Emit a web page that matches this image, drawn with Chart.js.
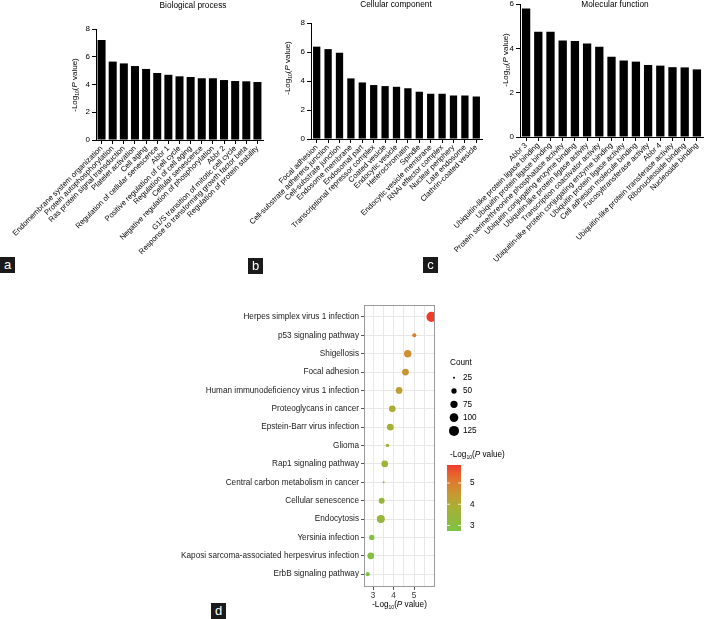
<!DOCTYPE html>
<html>
<head>
<meta charset="utf-8">
<script src="https://cdn.jsdelivr.net/npm/chart.js@4.4.1/dist/chart.umd.min.js"></script>
<style>
  body { margin:0; width:708px; height:619px; position:relative; background:#fff; overflow:hidden;
         font-family:"Liberation Sans", Arial, sans-serif; }
  .pane { position:absolute; }
  .tag { position:absolute; width:15px; height:16px; background:#1a1a1a; color:#fff;
         font-size:13px; line-height:16px; text-align:center; }
</style>
</head>
<body>
<div class="pane" style="left:0;top:0;width:270px;height:265px"><canvas id="bpChart"></canvas></div>
<div class="pane" style="left:235px;top:0;width:250px;height:265px"><canvas id="ccChart"></canvas></div>
<div class="pane" style="left:420px;top:0;width:288px;height:265px"><canvas id="mfChart"></canvas></div>
<div class="pane" style="left:0;top:295px;width:708px;height:324px"><canvas id="keggChart"></canvas></div>
<div class="tag" style="left:0;top:257px">a</div>
<div class="tag" style="left:248px;top:258px">b</div>
<div class="tag" style="left:423px;top:257px">c</div>
<div class="tag" style="left:211px;top:603px">d</div>
<script>
// ---- data ----
var bpLabels = ["Endomembrane system organization","Protein autophosphorylation","Ras protein signal transduction",
  "Platelet activation","Cell aging","Regulation of cellular senescence","Abbr 1","Positive regulation of cell cycle",
  "Regulation of cell aging","Cellular senescence","Negative regulation of phosphorylation","Abbr 2",
  "G1/S transition of mitotic cell cycle","Response to transforming growth factor beta","Regulation of protein stability"];
var bpValues = [7.2, 5.65, 5.52, 5.33, 5.12, 4.83, 4.7, 4.59, 4.54, 4.45, 4.45, 4.32, 4.25, 4.23, 4.18];

var ccLabels = ["Focal adhesion","Cell-substrate adherens junction","Cell-substrate junction","Endosome membrane",
  "Endosomal part","Transcriptional repressor complex","Coated vesicle","Endocytic vesicle","Heterochromatin","Spindle",
  "Endocytic vesicle membrane","RNAi effector complex","Nuclear periphery","Late endosome","Clathrin-coated vesicle"];
var ccValues = [6.37, 6.2, 5.95, 4.18, 3.9, 3.72, 3.65, 3.6, 3.5, 3.26, 3.12, 3.12, 3.0, 3.0, 2.93];

var mfLabels = ["Abbr 3","Ubiquitin-like protein ligase binding","Ubiquitin protein ligase binding",
  "Protein serine/threonine phosphatase activity","Ubiquitin conjugating enzyme binding",
  "Ubiquitin-like protein ligase activity","Transcription coactivator activity",
  "Ubiquitin-like protein conjugating enzyme binding","Ubiquitin protein ligase activity",
  "Cell adhesion molecule binding","Fucosyltransferase activity","Abbr 4",
  "Ubiquitin-like protein transferase activity","Ribonucleoside binding","Nucleoside binding"];
var mfValues = [5.8, 4.75, 4.75, 4.35, 4.33, 4.22, 4.07, 3.62, 3.45, 3.4, 3.25, 3.22, 3.15, 3.14, 3.05];

var pathways = ["Herpes simplex virus 1 infection","p53 signaling pathway","Shigellosis","Focal adhesion",
  "Human immunodeficiency virus 1 infection","Proteoglycans in cancer","Epstein-Barr virus infection","Glioma",
  "Rap1 signaling pathway","Central carbon metabolism in cancer","Cellular senescence","Endocytosis",
  "Yersinia infection","Kaposi sarcoma-associated herpesvirus infection","ErbB signaling pathway"];
var pathwayLogP = [5.85, 5.01, 4.69, 4.58, 4.27, 3.94, 3.84, 3.70, 3.57, 3.52, 3.42, 3.38, 2.94, 2.89, 2.74];
var pathwayCount = [128, 38, 78, 68, 68, 67, 67, 34, 66, 25, 58, 88, 50, 68, 38];

var countBreaks = [25, 50, 75, 100, 125];
var logPBreaks = [3, 4, 5];
var xGrid = [3, 3.5, 4, 4.5, 5, 5.5];

// ---- helpers ----
Chart.defaults.font.family = '"Liberation Sans", Arial, sans-serif';
Chart.defaults.color = '#000';
var FONT = '"Liberation Sans", Arial, sans-serif';

var vMin = Math.min.apply(null, pathwayLogP), vMax = Math.max.apply(null, pathwayLogP);
var colorStops = [[0,[125,194,67]],[0.35,[166,176,54]],[0.55,[198,154,48]],[0.78,[226,117,45]],[1,[240,59,43]]];

function valueColor(v){
  var t = Math.max(0, Math.min(1, (v - vMin) / (vMax - vMin)));
  for (var i = 1; i < colorStops.length; i++){
    if (t <= colorStops[i][0]){
      var a = colorStops[i-1], b = colorStops[i];
      var f = (t - a[0]) / (b[0] - a[0]);
      var c = a[1].map(function(x, k){ return Math.round(x + (b[1][k] - x) * f); });
      return 'rgb(' + c.join(',') + ')';
    }
  }
  return 'rgb(240,59,43)';
}
function countRadius(n){ return Math.sqrt(Math.max(0.5, 0.24 * n - 5)); }

// "-Log10(P value)" with subscript and italic P
function drawLogLabel(ctx, x, y, size, angle, align){
  var parts = [
    {t:'-Log', f:size + 'px ' + FONT, dy:0},
    {t:'10', f:(size*0.62) + 'px ' + FONT, dy:size*0.3},
    {t:'(', f:size + 'px ' + FONT, dy:0},
    {t:'P', f:'italic ' + size + 'px ' + FONT, dy:0},
    {t:' value)', f:size + 'px ' + FONT, dy:0}
  ];
  ctx.save();
  ctx.translate(x, y);
  ctx.rotate(angle);
  var w = 0;
  parts.forEach(function(p){ ctx.font = p.f; p.w = ctx.measureText(p.t).width; w += p.w; });
  var cx = align === 'left' ? 0 : -w / 2;
  ctx.textAlign = 'left';
  ctx.textBaseline = 'middle';
  ctx.fillStyle = '#000';
  parts.forEach(function(p){ ctx.font = p.f; ctx.fillText(p.t, cx, p.dy); cx += p.w; });
  ctx.restore();
}

var panelText = {
  id: 'panelText',
  afterDraw: function(chart, args, o){
    var ctx = chart.ctx;
    ctx.save();
    ctx.fillStyle = '#000';
    ctx.font = '8.3px ' + FONT;
    ctx.textAlign = 'center';
    ctx.textBaseline = 'middle';
    ctx.fillText(o.title, o.titleX, o.titleY);
    ctx.restore();
    drawLogLabel(ctx, o.yTitleX, o.yTitleY, 8, -Math.PI / 2);
  }
};

function barPanel(id, labels, values, opt){
  return new Chart(document.getElementById(id), {
    type: 'bar',
    data: {
      labels: labels,
      datasets: [{ data: values, backgroundColor: '#000', barPercentage: opt.barPct, categoryPercentage: 1 }]
    },
    options: {
      responsive: true,
      maintainAspectRatio: false,
      animation: false,
      events: [],
      layout: { padding: { top: opt.top, right: opt.right, left: 0, bottom: 0 } },
      plugins: {
        legend: { display: false },
        tooltip: { enabled: false },
        panelText: { title: opt.title, titleX: opt.titleX, titleY: opt.titleY, yTitleX: opt.yTitleX, yTitleY: opt.yTitleY }
      },
      scales: {
        x: {
          grid: { drawOnChartArea: false, offset: false, color: '#000', tickLength: 4 },
          border: { color: '#000', width: 1 },
          ticks: { autoSkip: false, minRotation: 45, maxRotation: 45, padding: 0, color: '#000', font: { size: 7.6 } },
          afterFit: function(s){ s.height = opt.xh; s.paddingLeft = 0; s.paddingRight = 0; }
        },
        y: {
          min: 0, max: opt.ymax,
          ticks: { stepSize: 2, color: '#000', font: { size: 8 }, padding: 2 },
          grid: { drawOnChartArea: false, color: '#000', tickLength: 4 },
          border: { color: '#000', width: 1 },
          afterFit: function(s){ s.width = opt.yw; s.paddingTop = 0; s.paddingBottom = 0; }
        }
      }
    },
    plugins: [panelText]
  });
}

barPanel('bpChart', bpLabels, bpValues, {
  ymax: 8, top: 29, right: 7, yw: 96, xh: 125, barPct: 0.72,
  title: 'Biological process', titleX: 193, titleY: 6, yTitleX: 75, yTitleY: 85
});
barPanel('ccChart', ccLabels, ccValues, {
  ymax: 8, top: 23, right: 3, yw: 76, xh: 126, barPct: 0.64,
  title: 'Cellular component', titleX: 161, titleY: 5, yTitleX: 53, yTitleY: 68
});
barPanel('mfChart', mfLabels, mfValues, {
  ymax: 6, top: 4, right: 5, yw: 100, xh: 128, barPct: 0.68,
  title: 'Molecular function', titleX: 195, titleY: 5, yTitleX: 86, yTitleY: 60
});

// ---- panel d: KEGG bubble plot ----
var keggExtras = {
  id: 'keggExtras',
  afterDraw: function(chart){
    var ctx = chart.ctx, a = chart.chartArea;
    ctx.save();
    ctx.strokeStyle = '#9a9a9a';
    ctx.lineWidth = 1;
    ctx.strokeRect(a.left + 0.5, a.top + 0.5, a.right - a.left - 1, a.bottom - a.top - 1);

    // size legend
    ctx.fillStyle = '#000';
    ctx.font = '8.2px ' + FONT;
    ctx.textAlign = 'left';
    ctx.textBaseline = 'middle';
    ctx.fillText('Count', 450, 68);
    countBreaks.forEach(function(c, i){
      var y = 82.7 + i * 13.3;
      ctx.beginPath();
      ctx.arc(454, y, countRadius(c), 0, Math.PI * 2);
      ctx.fill();
      ctx.fillText(String(c), 463, y);
    });

    // colour bar
    drawLogLabel(ctx, 450, 160, 8.2, 0, 'left');
    var bx = 447, by = 170, bw = 14, bh = 66;
    var g = ctx.createLinearGradient(0, by + bh, 0, by);
    for (var k = 0; k <= 20; k++){
      var v = vMin + (vMax - vMin) * k / 20;
      g.addColorStop(k / 20, valueColor(v));
    }
    ctx.fillStyle = g;
    ctx.fillRect(bx, by, bw, bh);
    ctx.strokeStyle = '#fff';
    ctx.lineWidth = 0.8;
    ctx.fillStyle = '#000';
    logPBreaks.forEach(function(v){
      var y = by + bh - (v - vMin) / (vMax - vMin) * bh;
      ctx.beginPath();
      ctx.moveTo(bx, y); ctx.lineTo(bx + 3, y);
      ctx.moveTo(bx + bw - 3, y); ctx.lineTo(bx + bw, y);
      ctx.stroke();
      ctx.fillText(String(v), 470, y);
    });

    // x axis title
    drawLogLabel(ctx, (a.left + a.right) / 2, 310, 8.2, 0);
    ctx.restore();
  }
};

new Chart(document.getElementById('keggChart'), {
  type: 'bubble',
  data: {
    datasets: [{
      data: pathways.map(function(p, i){ return { x: pathwayLogP[i], y: i, r: countRadius(pathwayCount[i]) }; }),
      backgroundColor: pathwayLogP.map(valueColor),
      borderWidth: 0,
      clip: 0
    }]
  },
  options: {
    responsive: true,
    maintainAspectRatio: false,
    animation: false,
    events: [],
    layout: { padding: { top: 10, right: 273, left: 0, bottom: 0 } },
    plugins: { legend: { display: false }, tooltip: { enabled: false } },
    scales: {
      x: {
        type: 'linear', min: 2.56, max: 6.02,
        afterBuildTicks: function(s){ s.ticks = xGrid.map(function(v){ return { value: v }; }); },
        ticks: { autoSkip: false, maxRotation: 0, padding: 1, color: '#333', font: { size: 8.2 },
                 callback: function(v){ return Number.isInteger(v) ? v : ''; } },
        grid: { color: '#e8e8e8', tickLength: 3,
                tickColor: function(c){ return c.tick && Number.isInteger(c.tick.value) ? '#555' : 'rgba(0,0,0,0)'; } },
        border: { display: false },
        afterFit: function(s){ s.height = 32; s.paddingLeft = 0; s.paddingRight = 0; }
      },
      y: {
        type: 'linear', reverse: true, min: -0.65, max: 14.7,
        afterBuildTicks: function(s){ s.ticks = pathways.map(function(p, i){ return { value: i }; }); },
        ticks: { autoSkip: false, padding: 2, color: '#1a1a1a', font: { size: 8.2 },
                 callback: function(v){ return pathways[v]; } },
        grid: { color: '#e8e8e8', tickLength: 3, tickColor: '#555' },
        border: { display: false },
        afterFit: function(s){ s.width = 364; s.paddingTop = 0; s.paddingBottom = 0; }
      }
    }
  },
  plugins: [keggExtras]
});
</script>
</body>
</html>
